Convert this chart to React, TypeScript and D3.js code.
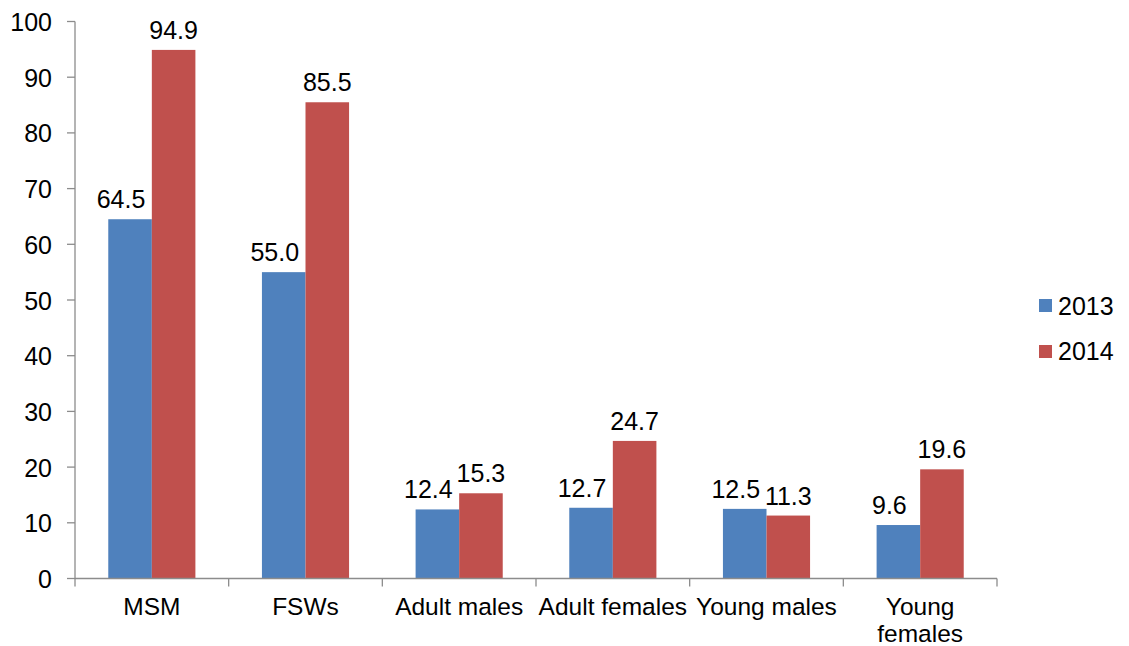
import React from "react";
import * as d3 from "d3";

const categories: string[][] = [
  ["MSM"],
  ["FSWs"],
  ["Adult males"],
  ["Adult females"],
  ["Young males"],
  ["Young", "females"],
];
const seriesNames = ["2013", "2014"];
const values2013 = [64.5, 55.0, 12.4, 12.7, 12.5, 9.6];
const values2014 = [94.9, 85.5, 15.3, 24.7, 11.3, 19.6];
const yTicks = [0, 10, 20, 30, 40, 50, 60, 70, 80, 90, 100];
const colors = ["#4F81BD", "#C0504D"];

const W = 1129;
const H = 646;
const left = 75;
const right = 997;
const top = 21.5;
const bottom = 578.5;
const font = "'Liberation Sans', Arial, sans-serif";
const axisColor = "#8c8c8c";
const fs = 25;

export default function App() {
  const series = [values2013, values2014];
  const keys = categories.map((c) => c.join(" "));
  const x = d3.scaleBand<string>().domain(keys).range([left, right]).paddingInner(0).paddingOuter(0);
  const y = d3.scaleLinear().domain([0, 100]).range([bottom, top]);
  const groupW = x.bandwidth() * 0.567;
  const inner = d3.scaleBand<string>().domain(seriesNames).range([0, groupW]);
  // first-series labels sit slightly left so they clear the neighbouring label
  const labelShift = [-9, 0];

  return (
    <svg
      width={W}
      height={H}
      style={{ position: "absolute", left: 0, top: 0, background: "#fff" }}
      fontFamily={font}
    >
      {/* bars and value labels */}
      {keys.map((k, i) => {
        const x0 = (x(k) as number) + (x.bandwidth() - groupW) / 2;
        return seriesNames.map((s, j) => {
          const v = series[j][i];
          const bx = x0 + (inner(s) as number);
          const bw = inner.bandwidth();
          return (
            <g key={k + s}>
              <rect x={bx} y={y(v)} width={bw} height={y(0) - y(v)} fill={colors[j]} />
              <text
                x={bx + bw / 2 + labelShift[j]}
                y={y(v) - 11}
                textAnchor="middle"
                fontSize={fs}
                fill="#000"
              >
                {v.toFixed(1)}
              </text>
            </g>
          );
        });
      })}

      {/* y axis */}
      <line x1={left} x2={left} y1={top} y2={bottom} stroke={axisColor} strokeWidth={1.3} />
      {yTicks.map((t) => (
        <g key={t}>
          <line x1={left - 8} x2={left} y1={y(t)} y2={y(t)} stroke={axisColor} strokeWidth={1.3} />
          <text x={52} y={y(t) + 9.5} textAnchor="end" fontSize={fs} fill="#000">
            {t}
          </text>
        </g>
      ))}

      {/* x axis */}
      <line x1={left} x2={right} y1={bottom} y2={bottom} stroke={axisColor} strokeWidth={1.3} />
      {[...keys.map((k) => x(k) as number), right].map((p, i) => (
        <line key={i} x1={p} x2={p} y1={bottom} y2={bottom + 8} stroke={axisColor} strokeWidth={1.3} />
      ))}
      {categories.map((lines, i) => {
        const cx = (x(keys[i]) as number) + x.bandwidth() / 2;
        return (
          <text key={i} textAnchor="middle" fontSize={24.5} fill="#000">
            {lines.map((ln, li) => (
              <tspan key={li} x={cx} y={615 + li * 27}>
                {ln}
              </tspan>
            ))}
          </text>
        );
      })}

      {/* legend */}
      {seriesNames.map((s, j) => (
        <g key={s}>
          <rect x={1039} y={299 + j * 46} width={13} height={13} fill={colors[j]} />
          <text x={1058} y={315 + j * 45} fontSize={fs} fill="#000">
            {s}
          </text>
        </g>
      ))}
    </svg>
  );
}
